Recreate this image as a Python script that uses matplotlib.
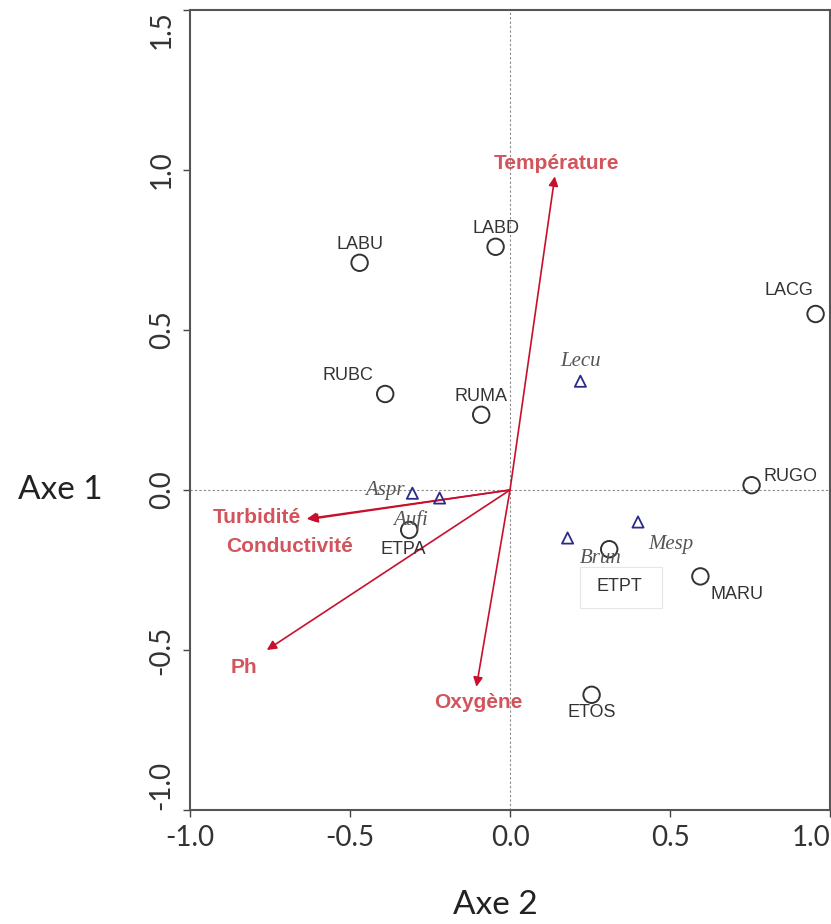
import numpy as np
import matplotlib
matplotlib.use("Agg")
import matplotlib.pyplot as plt

# sites (circles)
sites = ["LABU", "LABD", "LACG", "RUBC", "RUMA", "RUGO", "ETPA", "ETPT", "MARU", "ETOS"]
site_x = [-0.47, -0.045, 0.955, -0.39, -0.09, 0.755, -0.315, 0.31, 0.595, 0.255]
site_y = [0.71, 0.76, 0.55, 0.30, 0.235, 0.015, -0.125, -0.185, -0.27, -0.64]
# label offsets in points
site_off = [(0, 13), (0, 13), (-19, 17), (-27, 13), (0, 13), (28, 6), (-4, -14), (7, -27), (26, -13), (0, -13)]

# species (triangles)
species = ["Lecu", "Aspr", "Aufi", "Brun", "Mesp"]
spec_x = [0.22, -0.305, -0.22, 0.18, 0.40]
spec_y = [0.34, -0.01, -0.025, -0.15, -0.10]
spec_off = [(0, 14), (-20, 2), (-21, -16), (24, -15), (24, -16)]

# environmental variables (arrows)
env = ["Température", "Turbidité", "Conductivité", "Ph", "Oxygène"]
env_x = [0.14, -0.635, -0.63, -0.76, -0.105]
env_y = [0.98, -0.09, -0.092, -0.50, -0.615]
env_lab = [(0.145, 1.02), (-0.79, -0.085), (-0.69, -0.178), (-0.83, -0.555), (-0.1, -0.663)]

plt.rcParams['font.family'] = ['Liberation Sans', 'DejaVu Sans']

fig = plt.figure(figsize=(8.31, 9.24), dpi=100)
ax = fig.add_axes([190/831, (924-810)/924, 640/831, 800/924])

ax.axhline(0, color='#888888', lw=0.8, ls=(0, (2, 2)), zorder=1)
ax.axvline(0, color='#888888', lw=0.8, ls=(0, (2, 2)), zorder=1)

for i in range(len(env)):
    ax.annotate("", xy=(env_x[i], env_y[i]), xytext=(0, 0),
                arrowprops=dict(arrowstyle="-|>", color='#c8102e', lw=1.2,
                                mutation_scale=14, shrinkA=0, shrinkB=0), zorder=3)
    ax.text(env_lab[i][0], env_lab[i][1], env[i], color='#d2545c', fontsize=15,
            fontweight='bold', ha='center', va='center', zorder=4)

ax.scatter(site_x, site_y, s=140, facecolors='none', edgecolors='#333333', linewidths=1.4, zorder=5)
for i, s in enumerate(sites):
    ax.annotate(s, (site_x[i], site_y[i]), xytext=site_off[i], textcoords='offset points',
                ha='center', va='center', fontsize=13, color='#333333', zorder=6)
ax.add_patch(plt.Rectangle((0.22, -0.37), 0.255, 0.13, fill=False, ec='#e6e6e6', lw=0.8, zorder=2))

ax.scatter(spec_x, spec_y, marker='^', s=65, facecolors='none', edgecolors='#2b2b8a', linewidths=1.3, zorder=5)
for i, s in enumerate(species):
    ax.annotate(s, (spec_x[i], spec_y[i]), xytext=spec_off[i], textcoords='offset points',
                ha='center', va='center', fontsize=15, color='#555555', style='italic',
                family='Liberation Serif', zorder=6)

ax.set_xlim(-1.0, 1.0)
ax.set_ylim(-1.0, 1.5)
ax.set_xticks([-1.0, -0.5, 0.0, 0.5, 1.0])
ax.set_yticks([-1.0, -0.5, 0.0, 0.5, 1.0, 1.5])
ax.set_xticklabels(["-1.0", "-0.5", "0.0", "0.5", "1.0"], family='Lato', fontsize=20, color='#333333')
ax.set_yticklabels(["-1.0", "-0.5", "0.0", "0.5", "1.0", "1.5"], family='Lato', fontsize=20,
                   color='#333333', rotation=90, va='center')
ax.get_yticklabels()[-1].set_va('top')
ax.get_yticklabels()[0].set_va('bottom')
ax.get_xticklabels()[-1].set_ha('right')
ax.tick_params(length=5, width=1, color='#444444', pad=6)
for sp in ax.spines.values():
    sp.set_color('#555555')
    sp.set_linewidth(1.5)

fig.text(60/831, 1-490/924, "Axe 1", family='Lato', fontsize=24, color='#222222', ha='center', va='center')
fig.text(495/831, 1-905/924, "Axe 2", family='Lato', fontsize=24, color='#222222', ha='center', va='center')

fig.savefig("out.png", dpi=100)
